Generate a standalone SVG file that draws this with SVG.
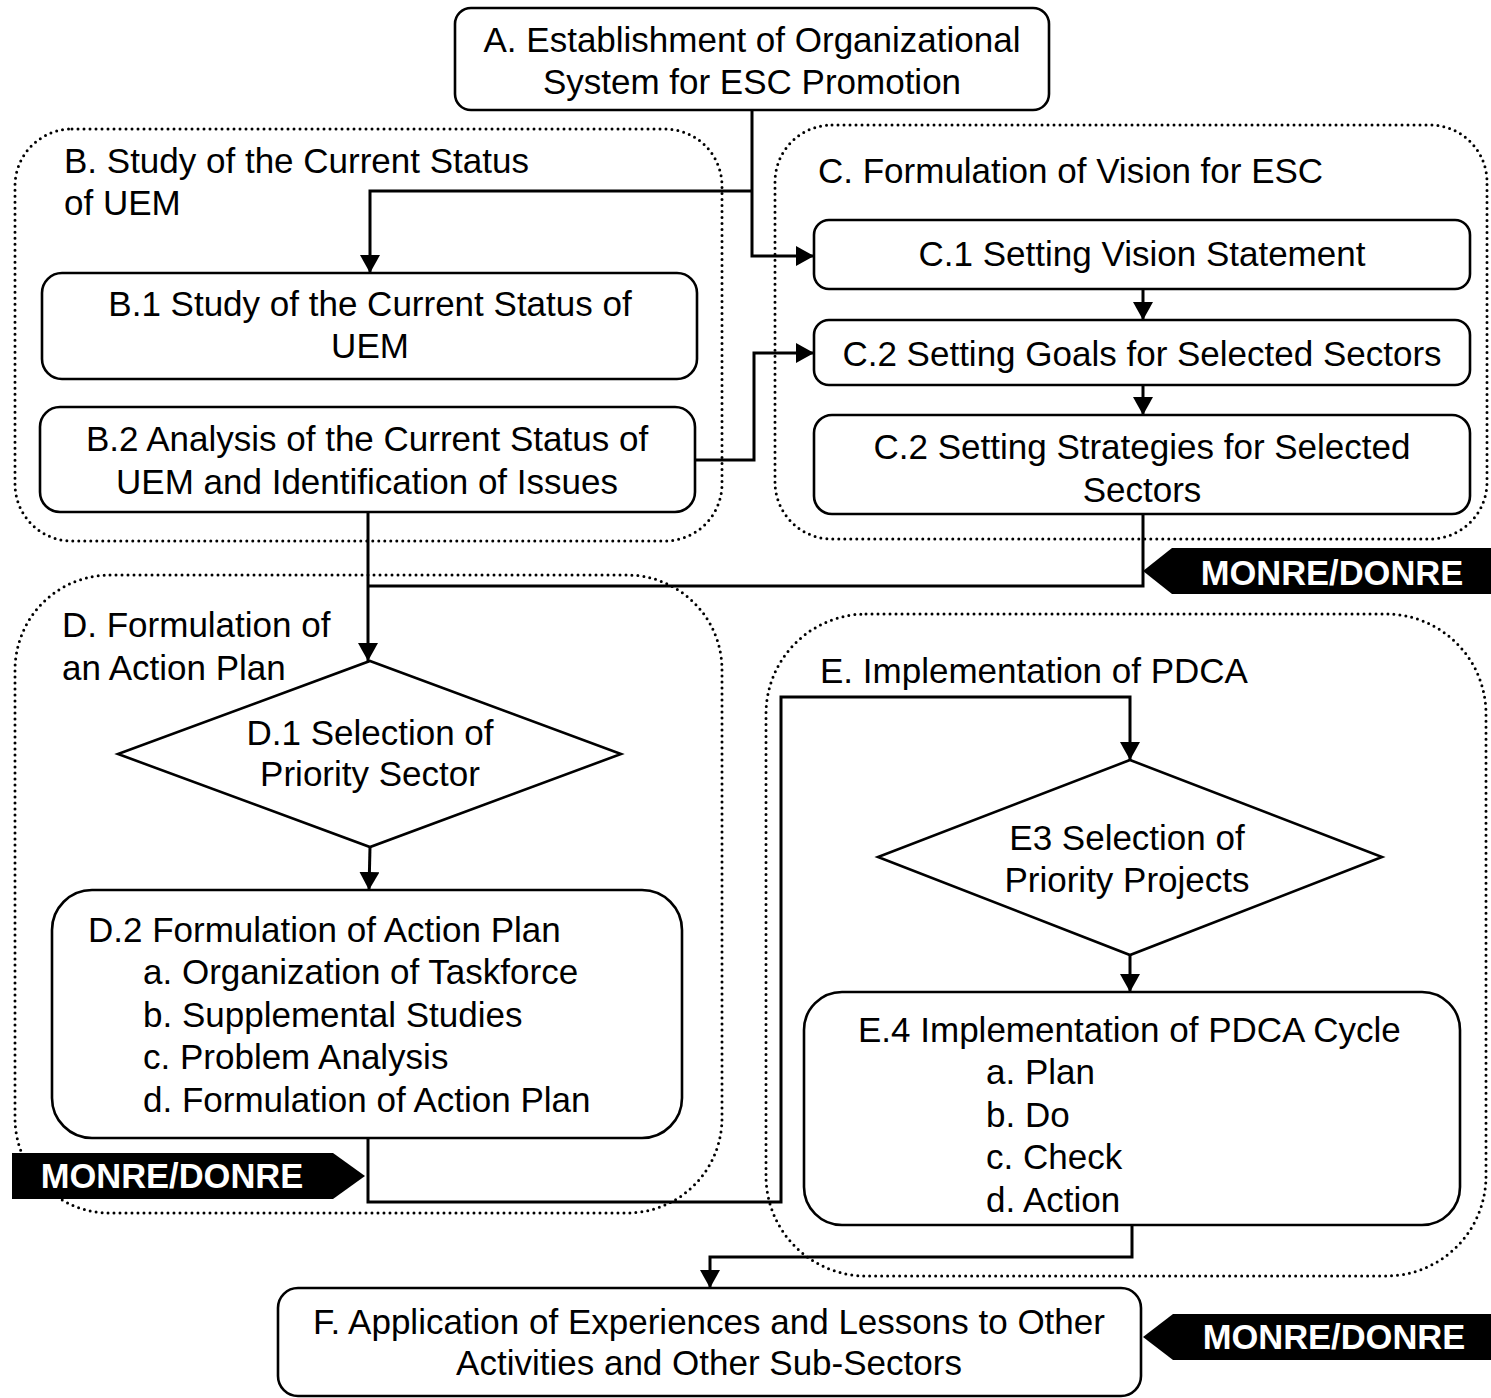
<svg xmlns="http://www.w3.org/2000/svg" width="1491" height="1398" viewBox="0 0 1491 1398">
  <defs>
    <marker id="arrow" markerUnits="userSpaceOnUse" markerWidth="20" markerHeight="20" refX="18" refY="10" orient="auto">
      <path d="M0,0 L18,10 L0,20 Z" fill="#000"/>
    </marker>
    <style>
      .group { fill: none; stroke: #000; stroke-width: 3; stroke-dasharray: 0 6; stroke-linecap: round; }
      .box { fill: #fff; stroke: #000; stroke-width: 2.6; }
      .link { fill: none; stroke: #000; stroke-width: 3; marker-end: url(#arrow); }
      .line { fill: none; stroke: #000; stroke-width: 3; }
      text { font-family: "Liberation Sans", Arial, sans-serif; font-size: 35px; fill: #000; }
      .c { text-anchor: middle; }
      .tag { fill: #000; }
      .tagtext { font-weight: bold; font-size: 34.5px; fill: #fff; text-anchor: middle; }
    </style>
  </defs>
  <rect width="1491" height="1398" fill="#fff"/>

  <!-- dotted group outlines -->
  <g id="group-B">
    <rect class="group" x="15" y="129" width="707" height="412" rx="57" ry="57"/>
    <text x="64" y="173">B. Study of the Current Status</text>
    <text x="64" y="215">of UEM</text>
  </g>
  <g id="group-C">
    <rect class="group" x="775" y="125" width="712" height="414" rx="57" ry="57"/>
    <text x="818" y="183">C. Formulation of Vision for ESC</text>
  </g>
  <g id="group-D">
    <rect class="group" x="15" y="575" width="707" height="638" rx="95" ry="95"/>
    <text x="62" y="637">D. Formulation of</text>
    <text x="62" y="680">an Action Plan</text>
  </g>
  <g id="group-E">
    <rect class="group" x="766" y="614" width="720" height="662" rx="100" ry="100"/>
    <text x="820" y="683">E. Implementation of PDCA</text>
  </g>

  <!-- connectors -->
  <g id="connectors">
    <path class="link" d="M752,110 V256 H814"/>
    <path class="link" d="M752,191 H370 V273"/>
    <path class="link" d="M695,460 H754 V353 H814"/>
    <path class="link" d="M1143,289 V320"/>
    <path class="link" d="M1143,385 V415"/>
    <path class="line" d="M1143,514 V586 H368"/>
    <path class="link" d="M368,512 V661"/>
    <path class="link" d="M370,847 L369,890"/>
    <path class="link" d="M368,1138 V1202 H781 V697 H1130 V760"/>
    <path class="link" d="M1130,955 V992"/>
    <path class="link" d="M1132,1225 V1257 H710 V1288"/>
  </g>

  <!-- process nodes -->
  <g id="node-A">
    <rect class="box" x="455" y="8" width="594" height="102" rx="16" ry="16"/>
    <text class="c" x="752" y="52">A. Establishment of Organizational</text>
    <text class="c" x="752" y="94">System for ESC Promotion</text>
  </g>
  <g id="node-B1">
    <rect class="box" x="42" y="273" width="655" height="106" rx="20" ry="20"/>
    <text class="c" x="370" y="316">B.1 Study of the Current Status of</text>
    <text class="c" x="370" y="358">UEM</text>
  </g>
  <g id="node-B2">
    <rect class="box" x="40" y="407" width="655" height="105" rx="20" ry="20"/>
    <text class="c" x="367" y="451">B.2 Analysis of the Current Status of</text>
    <text class="c" x="367" y="494">UEM and Identification of Issues</text>
  </g>
  <g id="node-C1">
    <rect class="box" x="814" y="220" width="656" height="69" rx="15" ry="15"/>
    <text class="c" x="1142" y="266">C.1 Setting Vision Statement</text>
  </g>
  <g id="node-C2">
    <rect class="box" x="814" y="320" width="656" height="65" rx="15" ry="15"/>
    <text class="c" x="1142" y="366">C.2 Setting Goals for Selected Sectors</text>
  </g>
  <g id="node-C3">
    <rect class="box" x="814" y="415" width="656" height="99" rx="18" ry="18"/>
    <text class="c" x="1142" y="459">C.2 Setting Strategies for Selected</text>
    <text class="c" x="1142" y="502">Sectors</text>
  </g>
  <g id="node-D1">
    <polygon class="box" points="370,661 621,754 370,847 118,754"/>
    <text class="c" x="370" y="745">D.1 Selection of</text>
    <text class="c" x="370" y="786">Priority Sector</text>
  </g>
  <g id="node-D2">
    <rect class="box" x="52" y="890" width="630" height="248" rx="40" ry="40"/>
    <text x="88" y="942">D.2 Formulation of Action Plan</text>
    <text x="143" y="984">a. Organization of Taskforce</text>
    <text x="143" y="1027">b. Supplemental Studies</text>
    <text x="143" y="1069">c. Problem Analysis</text>
    <text x="143" y="1112">d. Formulation of Action Plan</text>
  </g>
  <g id="node-E3">
    <polygon class="box" points="1130,760 1382,857 1130,955 878,857"/>
    <text class="c" x="1127" y="850">E3 Selection of</text>
    <text class="c" x="1127" y="892">Priority Projects</text>
  </g>
  <g id="node-E4">
    <rect class="box" x="804" y="992" width="656" height="233" rx="38" ry="38"/>
    <text x="858" y="1042">E.4 Implementation of PDCA Cycle</text>
    <text x="986" y="1084">a. Plan</text>
    <text x="986" y="1127">b. Do</text>
    <text x="986" y="1169">c. Check</text>
    <text x="986" y="1212">d. Action</text>
  </g>
  <g id="node-F">
    <rect class="box" x="278" y="1288" width="863" height="108" rx="20" ry="20"/>
    <text class="c" x="709" y="1334">F. Application of Experiences and Lessons to Other</text>
    <text class="c" x="709" y="1375">Activities and Other Sub-Sectors</text>
  </g>

  <!-- responsible agency tags -->
  <g id="tag-1">
    <polygon class="tag" points="1143,571 1172,548 1491,548 1491,594 1172,594"/>
    <text class="tagtext" x="1332" y="585">MONRE/DONRE</text>
  </g>
  <g id="tag-2">
    <polygon class="tag" points="12,1153 333,1153 365,1176 333,1199 12,1199"/>
    <text class="tagtext" x="172" y="1188">MONRE/DONRE</text>
  </g>
  <g id="tag-3">
    <polygon class="tag" points="1143,1337 1173,1314 1491,1314 1491,1360 1173,1360"/>
    <text class="tagtext" x="1334" y="1349">MONRE/DONRE</text>
  </g>
</svg>
